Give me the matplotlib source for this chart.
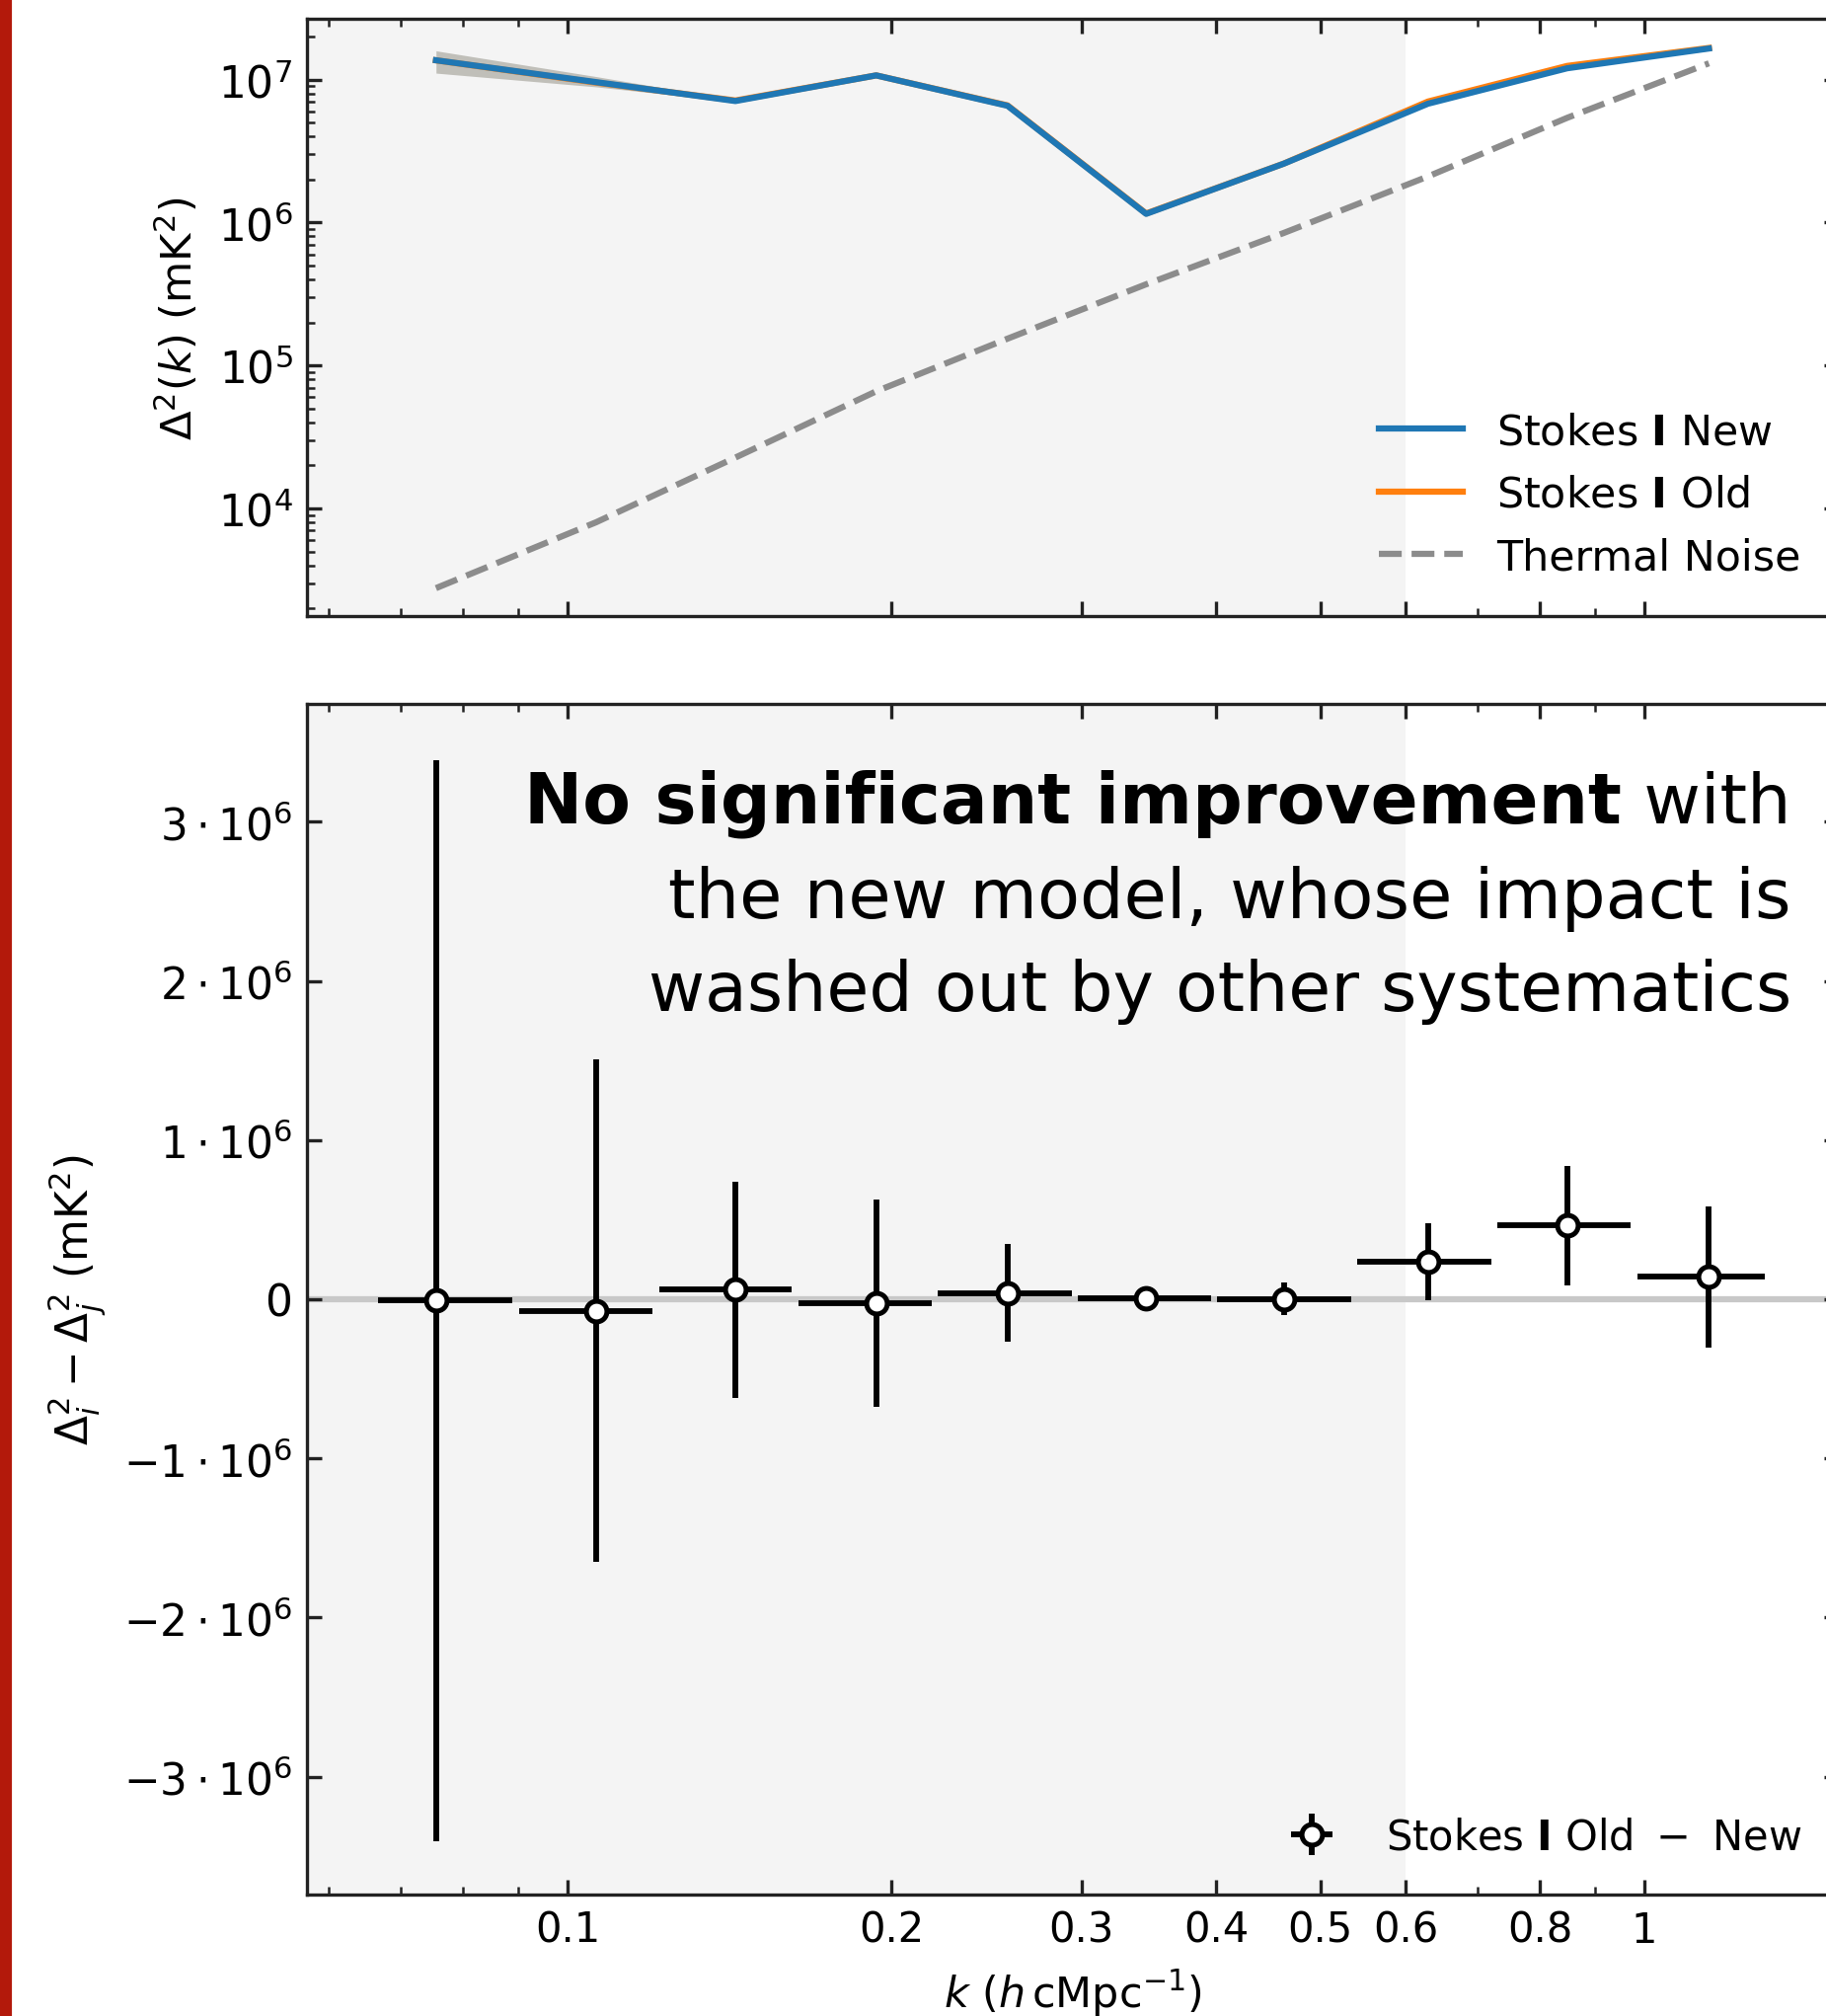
import matplotlib
matplotlib.use("Agg")
import matplotlib.pyplot as plt
from matplotlib.patches import Rectangle
from matplotlib.ticker import FixedLocator, FixedFormatter, NullFormatter
import numpy as np

# k bins (h cMpc^-1)
k = [0.0755, 0.1063, 0.1432, 0.1935, 0.2562, 0.3446, 0.4624, 0.6294, 0.8475, 1.1476]
k_lo = [0.0667, 0.0902, 0.1216, 0.1640, 0.2207, 0.2979, 0.4012, 0.5413, 0.7295, 0.9843]
k_hi = [0.0889, 0.1200, 0.1616, 0.2181, 0.2938, 0.3958, 0.5340, 0.7204, 0.9709, 1.2932]

# power spectra (mK^2)
ps_new = [1.365e7, 9.6e6, 7.08e6, 1.07e7, 6.56e6, 1.15e6, 2.58e6, 6.78e6, 1.20e7, 1.65e7]
ps_old = [1.364e7, 9.53e6, 7.14e6, 1.07e7, 6.60e6, 1.157e6, 2.583e6, 7.02e6, 1.246e7, 1.664e7]
band_lo = [1.11e7, 8.9e6, 7.0e6, 1.06e7, 6.5e6, 1.14e6, 2.56e6, 6.72e6, 1.19e7, 1.64e7]
band_hi = [1.59e7, 1.05e7, 7.2e6, 1.08e7, 6.62e6, 1.16e6, 2.60e6, 6.84e6, 1.21e7, 1.66e7]
noise = [2.77e3, 8.0e3, 2.27e4, 6.6e4, 1.54e5, 3.7e5, 8.45e5, 2.1e6, 5.4e6, 1.3e7]

# difference old - new and its uncertainty (mK^2)
diff = [-0.009e6, -0.073e6, 0.060e6, -0.026e6, 0.038e6, 0.007e6, 0.003e6, 0.237e6, 0.464e6, 0.142e6]
diff_err = [3.397e6, 1.578e6, 0.68e6, 0.65e6, 0.307e6, 0.05e6, 0.105e6, 0.242e6, 0.375e6, 0.443e6]

xticks = [0.1, 0.2, 0.3, 0.4, 0.5, 0.6, 0.8, 1]
xticklabels = ['0.1', '0.2', '0.3', '0.4', '0.5', '0.6', '0.8', '1']
xminor = [0.06, 0.07, 0.08, 0.09, 0.7, 0.9]
yticks2 = [-3e6, -2e6, -1e6, 0, 1e6, 2e6, 3e6]
yticklabels2 = [r'$-3\cdot10^{6}$', r'$-2\cdot10^{6}$', r'$-1\cdot10^{6}$', '0',
                r'$1\cdot10^{6}$', r'$2\cdot10^{6}$', r'$3\cdot10^{6}$']

plt.rcParams['font.family'] = ['DejaVu Sans']
plt.rcParams['mathtext.fontset'] = 'dejavusans'
plt.rcParams['font.size'] = 10

W, H = 1850, 2043
fig = plt.figure(figsize=(W / 300, H / 300), dpi=300)
ax1 = fig.add_axes([311 / W, 1 - 624.5 / H, (1863 - 311) / W, (624.5 - 20.4) / H])
ax2 = fig.add_axes([311 / W, 1 - 1920 / H, (1863 - 311) / W, (1920 - 714) / H], sharex=ax1)

# red strip at the left edge
fig.patches.append(Rectangle((0, 0), 10 / W, 1, transform=fig.transFigure,
                             color='#b3190b', zorder=5))

xmin, xmax = 0.0573, 1.515
shade = '#f4f4f4'
spine_c = '#222222'

for ax in (ax1, ax2):
    ax.axvspan(0.01, 0.6, color=shade, lw=0, zorder=0)
    for s in ax.spines.values():
        s.set_color(spine_c)
    ax.tick_params(which='both', direction='in', top=True, right=True, color=spine_c)
    ax.tick_params(axis='y', labelsize=10.5)

# top panel
ax1.fill_between(k, band_lo, band_hi, color='#c0bfb9', lw=0, zorder=1)
ax1.plot(k, ps_old, color='C1', lw=1.5, label=r'Stokes $\mathbf{I}$ Old', zorder=2)
ax1.plot(k, ps_new, color='C0', lw=1.5, label=r'Stokes $\mathbf{I}$ New', zorder=3)
ax1.plot(k, noise, color='#8c8c8c', lw=1.5, ls='--', label='Thermal Noise', zorder=2)
ax1.set_yscale('log')
ax1.set_ylim(1781, 2.647e7)
ax1.set_ylabel(r'$\Delta^2(k)$ (mK$^2$)', fontsize=10.4)
h, l = ax1.get_legend_handles_labels()
ax1.legend([h[1], h[0], h[2]], [l[1], l[0], l[2]], loc='lower right',
           frameon=False, fontsize=10.25)

# bottom panel
ax2.axhline(0, color='#c8c8c8', lw=1.5, zorder=1)
xerr = [np.array(k) - np.array(k_lo), np.array(k_hi) - np.array(k)]
ax2.errorbar(k, diff, yerr=diff_err, xerr=xerr, fmt='o', color='black',
             mfc='white', mec='black', ms=5, mew=1.2, elinewidth=1.4,
             label='Stokes $\\mathbf{I}$ Old \u2009\u2212\u2009 New', zorder=3)
ax2.set_ylim(-3.74e6, 3.74e6)
ax2.yaxis.set_major_locator(FixedLocator(yticks2))
ax2.yaxis.set_major_formatter(FixedFormatter(yticklabels2))
ax2.set_ylabel(r'$\Delta_i^2 - \Delta_j^2$ (mK$^2$)', fontsize=10.5)
ax2.set_xlabel(r'$k$ ($h\,$cMpc$^{-1}$)', fontsize=10.3)
ax2.legend(loc='lower right', frameon=False, fontsize=10.0)

ax2.set_xscale('log')
ax2.set_xlim(xmin, xmax)
ax2.xaxis.set_major_locator(FixedLocator(xticks))
ax2.xaxis.set_major_formatter(FixedFormatter(xticklabels))
ax2.xaxis.set_minor_locator(FixedLocator(xminor))
ax2.xaxis.set_minor_formatter(NullFormatter())
plt.setp(ax1.get_xticklabels(which='both'), visible=False)

# annotation with a bold lead-in
tx = 0.969
t_with = ax2.text(tx, 0.9005, ' with', transform=ax2.transAxes, ha='right',
                  va='baseline', fontsize=16.9)
fig.canvas.draw()
bb = t_with.get_window_extent(renderer=fig.canvas.get_renderer())
x0 = ax2.transAxes.inverted().transform((bb.x0, bb.y0))[0]
ax2.text(x0, 0.9005, 'No significant improvement', transform=ax2.transAxes,
         ha='right', va='baseline', fontsize=17, fontweight='bold')
ax2.text(tx, 0.8207, 'the new model, whose impact is', transform=ax2.transAxes,
         ha='right', va='baseline', fontsize=16.9)
ax2.text(tx, 0.7431, 'washed out by other systematics', transform=ax2.transAxes,
         ha='right', va='baseline', fontsize=16.75)

fig.savefig('out.png', dpi=300)
